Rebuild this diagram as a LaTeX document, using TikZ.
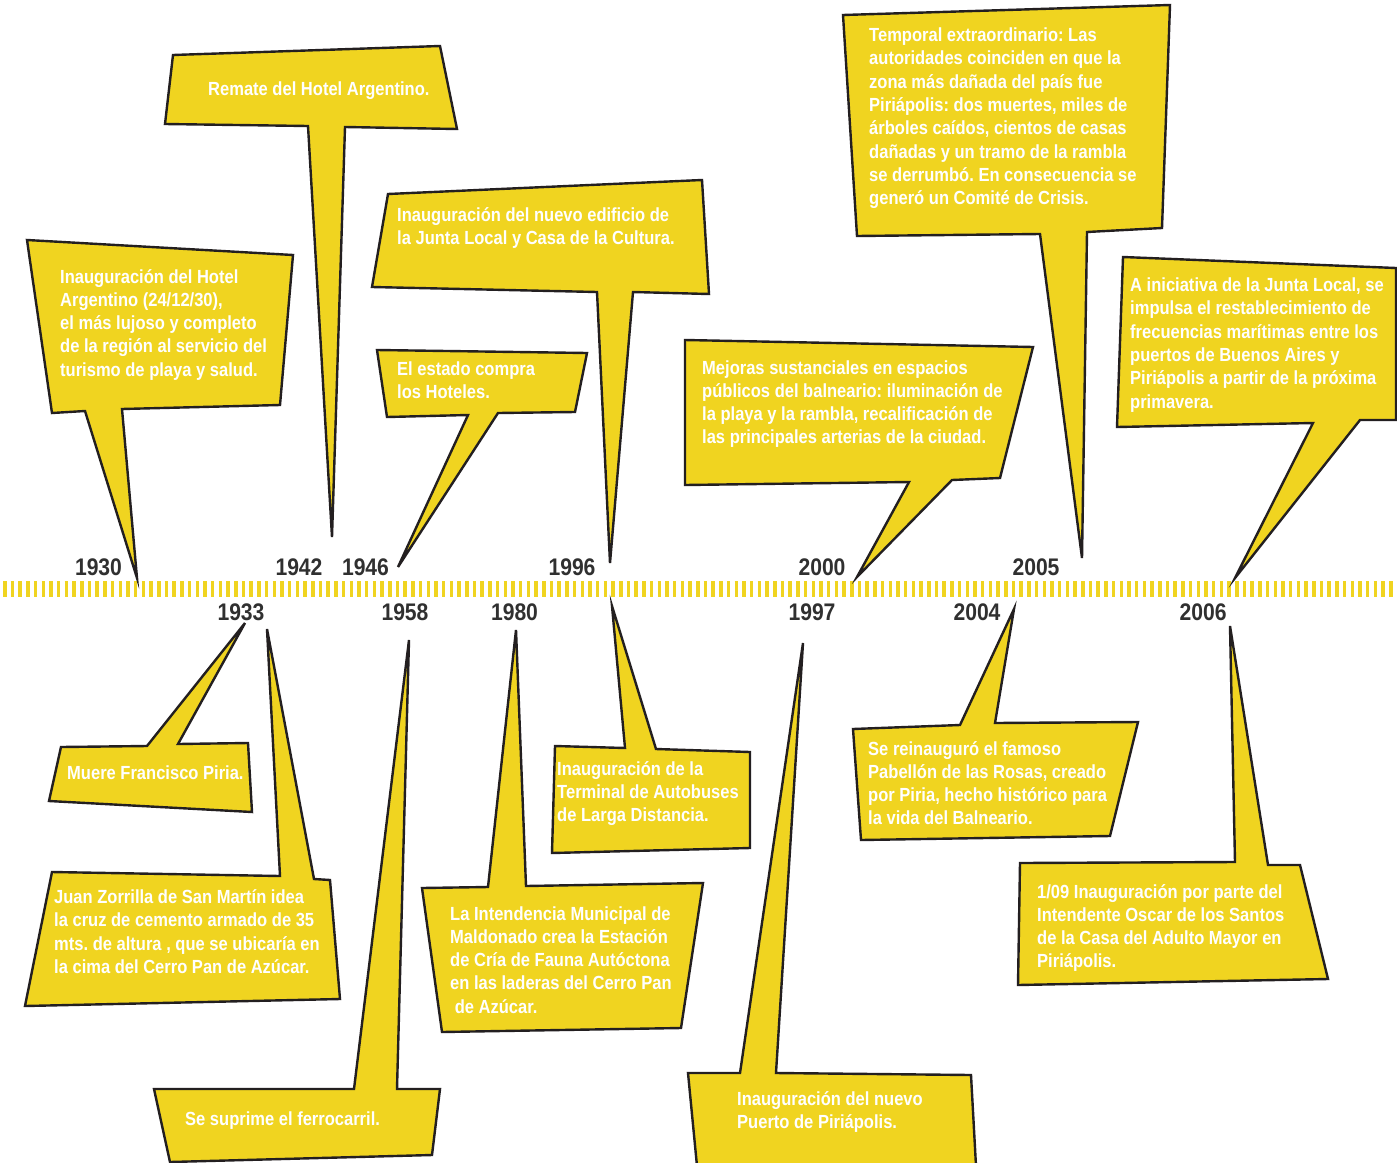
\documentclass[tikz,border=0pt]{standalone}
\usepackage{fontspec}
\setmainfont{Liberation Sans}[FakeStretch=0.87]
\newfontfamily\callfont{Liberation Sans}[FakeStretch=0.87]
\newfontfamily\yearfont{Liberation Sans}[FakeStretch=0.88]
\definecolor{cyellow}{RGB}{240,212,32}
\definecolor{coutline}{RGB}{35,31,32}
\definecolor{ygray}{RGB}{48,48,48}
\newcommand{\cl}[1]{\begin{tabular}[t]{@{}l@{}}#1\end{tabular}}
\frenchspacing
\begin{document}
\begin{tikzpicture}[x=1pt,y=-1pt,
  callout/.style={fill=cyellow,draw=coutline,line width=2.4pt},
  ctext/.style={anchor=base west,inner sep=0pt,text=white,font=\callfont\bfseries\fontsize{19}{23.3}\selectfont},
  year/.style={anchor=base,inner sep=0pt,text=ygray,font=\yearfont\bfseries\fontsize{24}{24}\selectfont},
  strip/.style={line width=16pt,draw=cyellow,dash pattern=on 3.5pt off 4.2pt}]
\useasboundingbox (0,0) rectangle (1397,1162);
\fill[white] (0,0) rectangle (1397,1162);
% timeline strip
\coordinate (sL) at (3,589);
\coordinate (sR) at (1394,589);
\draw[strip] (sL) -- (sR);
% upper callouts
\draw[callout] (27,240) -- (293,255) -- (280,405) -- (122,409) -- (137,578) -- (85,411) -- (52,413) -- cycle;
\draw[callout] (173,55) -- (440,46) -- (457,129) -- (345,127) -- (332,537) -- (308,126) -- (165,124) -- cycle;
\draw[callout] (377,350) -- (587,353) -- (575,412) -- (498,413) -- (398,567) -- (468,415) -- (387,417) -- cycle;
\draw[callout] (388,194) -- (702,180) -- (709,294) -- (633,292) -- (610,563) -- (597,292) -- (372,287) -- cycle;
\draw[callout] (685,340) -- (1033,347) -- (1000,478) -- (952,480) -- (857,577) -- (909,482) -- (685,485) -- cycle;
\draw[callout] (843,15) -- (1170,5) -- (1162,228) -- (1087,232) -- (1082,558) -- (1040,234) -- (857,236) -- cycle;
\draw[callout] (1123,257) -- (1396,268) -- (1396,420) -- (1360,420) -- (1235,578) -- (1313,423) -- (1117,427) -- cycle;
% lower callouts
\draw[callout] (61,747) -- (147,746) -- (245,623) -- (178,744) -- (248,743) -- (252,812) -- (49,801) -- cycle;
\draw[callout] (52,872) -- (280,876) -- (267,629) -- (314,879) -- (330,880) -- (340,999) -- (25,1006) -- cycle;
\draw[callout] (154,1089) -- (354,1089) -- (409,640) -- (397,1089) -- (440,1089) -- (432,1155) -- (170,1162) -- cycle;
\draw[callout] (422,888) -- (488,887) -- (516,630) -- (526,886) -- (703,883) -- (681,1028) -- (442,1032) -- cycle;
\draw[callout] (555,746) -- (625,748) -- (612,606) -- (656,749) -- (750,752) -- (750,848) -- (552,853) -- cycle;
\draw[callout] (688,1073) -- (740,1073) -- (803,643) -- (776,1073) -- (971,1075) -- (976,1166) -- (697,1166) -- cycle;
\draw[callout] (853,729) -- (960,725) -- (1014,609) -- (995,723) -- (1138,722) -- (1110,836) -- (861,840) -- cycle;
\draw[callout] (1020,863) -- (1235,862) -- (1230,626) -- (1268,865) -- (1300,865) -- (1328,979) -- (1018,985) -- cycle;
% texts
\node[ctext] (t1930) at (60,283) {\cl{Inauguración del Hotel\\Argentino (24/12/30),\\el más lujoso y completo\\de la región al servicio del\\turismo de playa y salud.}};
\node[ctext] (t1942) at (208,95) {Remate del Hotel Argentino.};
\node[ctext] (t1946) at (397,375) {\cl{El estado compra\\los Hoteles.}};
\node[ctext] (t1996a) at (397,221.5) {\cl{Inauguración del nuevo edificio de\\la Junta Local y Casa de la Cultura.}};
\node[ctext] (t2000) at (702,374) {\cl{Mejoras sustanciales en espacios\\públicos del balneario: iluminación de\\la playa y la rambla, recalificación de\\las principales arterias de la ciudad.}};
\node[ctext] (t2005) at (869,41.5) {\cl{Temporal extraordinario: Las\\autoridades coinciden en que la\\zona más dañada del país fue\\Piriápolis: dos muertes, miles de\\árboles caídos, cientos de casas\\dañadas y un tramo de la rambla\\se derrumbó. En consecuencia se\\generó un Comité de Crisis.}};
\node[ctext] (t2006a) at (1130,291.5) {\cl{A iniciativa de la Junta Local, se\\impulsa el restablecimiento de\\frecuencias marítimas entre los\\puertos de Buenos Aires y\\Piriápolis a partir de la próxima\\primavera.}};
\node[ctext] (t1933a) at (67,779.5) {Muere Francisco Piria.};
\node[ctext] (t1933b) at (54,903.5) {\cl{Juan Zorrilla de San Martín idea\\la cruz de cemento armado de 35\\mts. de altura , que se ubicaría en\\la cima del Cerro Pan de Azúcar.}};
\node[ctext] (t1958) at (185,1125) {Se suprime el ferrocarril.};
\node[ctext] (t1980) at (450,920) {\cl{La Intendencia Municipal de\\Maldonado crea la Estación\\de Cría de Fauna Autóctona\\en las laderas del Cerro Pan\\\ de Azúcar.}};
\node[ctext] (t1996b) at (557,775) {\cl{Inauguración de la\\Terminal de Autobuses\\de Larga Distancia.}};
\node[ctext] (t1997) at (737,1105) {\cl{Inauguración del nuevo\\Puerto de Piriápolis.}};
\node[ctext] (t2004) at (868,755) {\cl{Se reinauguró el famoso\\Pabellón de las Rosas, creado\\por Piria, hecho histórico para\\la vida del Balneario.}};
\node[ctext] (t2006b) at (1037,898) {\cl{1/09 Inauguración por parte del\\Intendente Oscar de los Santos\\de la Casa del Adulto Mayor en\\Piriápolis.}};
% years
\node[year] (y1930) at (98.5,575) {1930};
\node[year] (y1942) at (299,575) {1942};
\node[year] (y1946) at (365.5,575) {1946};
\node[year] (y1996) at (572,575) {1996};
\node[year] (y2000) at (822,575) {2000};
\node[year] (y2005) at (1036,575) {2005};
\node[year] (y1933) at (241,620) {1933};
\node[year] (y1958) at (405,620) {1958};
\node[year] (y1980) at (514.5,620) {1980};
\node[year] (y1997) at (812,620) {1997};
\node[year] (y2004) at (977,620) {2004};
\node[year] (y2006) at (1203,620) {2006};
\end{tikzpicture}
\end{document}
